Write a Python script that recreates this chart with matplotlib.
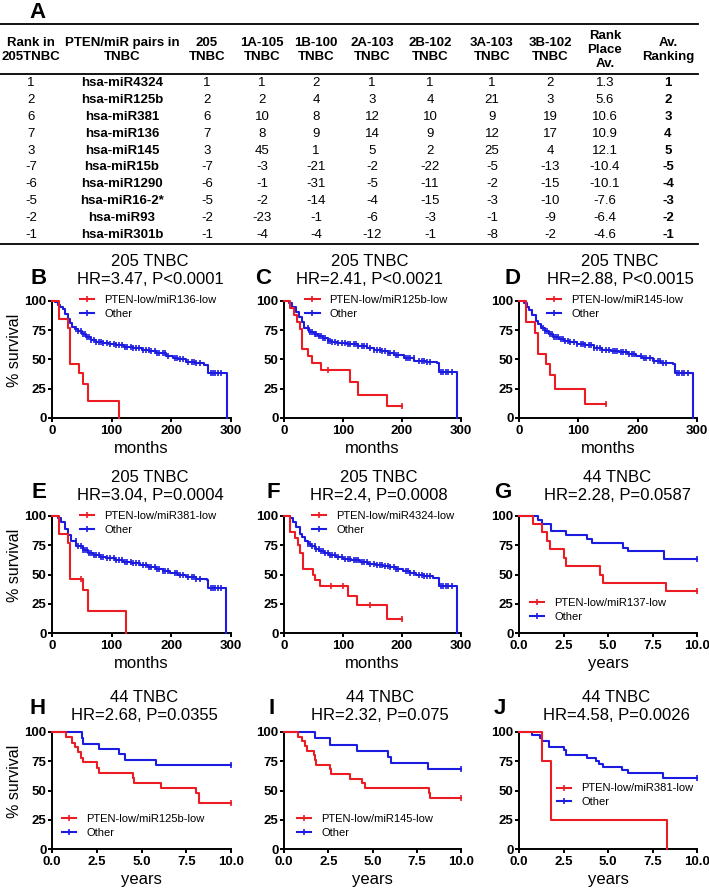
import numpy as np
import matplotlib.pyplot as plt
from matplotlib.lines import Line2D

plt.rcParams['font.family'] = ['Liberation Sans', 'DejaVu Sans']

W, H = 709, 891
RED = '#ec1c24'
BLUE = '#1c1ce0'

# ---------------- table A ----------------
headers = ['Rank in\n205TNBC', 'PTEN/miR pairs in\nTNBC', '205\nTNBC', '1A-105\nTNBC',
           '1B-100\nTNBC', '2A-103\nTNBC', '2B-102\nTNBC', '3A-103\nTNBC',
           '3B-102\nTNBC', 'Rank\nPlace\nAv.', 'Av.\nRanking']
rank_205 = [1, 2, 6, 7, 3, -7, -6, -5, -2, -1]
pairs = ['hsa-miR4324', 'hsa-miR125b', 'hsa-miR381', 'hsa-miR136', 'hsa-miR145',
         'hsa-miR15b', 'hsa-miR1290', 'hsa-miR16-2*', 'hsa-miR93', 'hsa-miR301b']
tnbc_205 = [1, 2, 6, 7, 3, -7, -6, -5, -2, -1]
c_1a = [1, 2, 10, 8, 45, -3, -1, -2, -23, -4]
c_1b = [2, 4, 8, 9, 1, -21, -31, -14, -1, -4]
c_2a = [1, 3, 12, 14, 5, -2, -5, -4, -6, -12]
c_2b = [1, 4, 10, 9, 2, -22, -11, -15, -3, -1]
c_3a = [1, 21, 9, 12, 25, -5, -2, -3, -1, -8]
c_3b = [2, 3, 19, 17, 4, -13, -15, -10, -9, -2]
rank_avg = [1.3, 5.6, 10.6, 10.9, 12.1, -10.4, -10.1, -7.6, -6.4, -4.6]
av_ranking = [1, 2, 3, 4, 5, -5, -4, -3, -2, -1]

# ---------------- survival curves (time, survival after step) ----------------
# 205 TNBC, months
b_red_t = [0, 11.7, 26.8, 30.7, 44.6, 52, 60, 112]
b_red_s = [100, 85, 77, 46, 38.5, 29, 14.3, 0]
b_red_c = []
b_blue_t = [0, 5, 10, 14, 18, 22, 26, 30, 34, 38, 44, 50, 57, 65, 74, 85, 95, 108, 120,
            135, 150, 163, 175, 191, 202, 212, 225, 240, 255, 262, 293]
b_blue_s = [100, 99, 97, 95, 93, 89, 85, 81, 78, 76, 74, 72, 69, 67, 65, 64, 63, 62, 61,
            59.5, 58, 57, 55.5, 53, 51, 50, 48, 47, 45.5, 38.5, 0]

c_red_t = [0, 10, 17, 22, 27, 30, 40, 47, 62, 112, 125, 175, 200]
c_red_s = [100, 94, 88, 82, 76, 59, 53, 47, 41, 31, 20, 10, 10]
c_red_c = [75, 200]
c_blue_t = [0, 8.5, 14, 20, 25.5, 30, 34, 42, 50, 57, 66, 74, 82, 90, 107, 125, 141, 152,
            164, 176, 187, 204, 221, 240, 260, 263, 293]
c_blue_s = [100, 98, 95, 91, 86, 82, 77, 73.4, 71.5, 70, 68, 66, 65, 64, 63, 61.5, 60, 58.5,
            57, 55.5, 54, 51.4, 49, 48, 47, 39, 0]

d_red_t = [0, 11, 27, 32.6, 45, 52, 60.7, 112, 146]
d_red_s = [100, 82, 73, 55, 46, 37, 24.5, 12.3, 12.3]
d_red_c = [146]
d_blue_t = [0, 8.4, 13, 17, 22.5, 28, 32, 36.5, 43, 50.6, 58, 67, 75, 84, 98, 112, 126, 140,
            155, 169, 183, 197, 208, 225, 240, 260, 263, 293]
d_blue_s = [100, 98, 95, 92, 88, 83, 80, 76.6, 74, 71.5, 69.5, 67.5, 66, 64.7, 63.3, 62, 60,
            58, 57, 56, 54.5, 53, 51, 48.4, 47, 46, 38.4, 0]

e_red_t = [0, 11.7, 27, 31, 52, 60, 124.6]
e_red_s = [100, 85, 77, 46, 37, 18.5, 0]
e_red_c = [49]
e_blue_t = [0, 10, 15.6, 21, 27, 32, 41, 52, 60, 69, 80, 91, 105, 119, 133, 147, 161, 175,
            186, 197, 211, 225, 242, 259, 261, 292]
e_blue_s = [100, 98, 95, 88.7, 83.6, 78.8, 74.5, 70.8, 68.5, 66.6, 65, 63.7, 62.3, 61, 59.5,
            58, 56.5, 55, 53.3, 51.6, 49.8, 48, 46.4, 45, 38.5, 0]

f_red_t = [0, 9.6, 18, 23.7, 27.6, 32, 49, 52, 61, 108, 124, 174, 200]
f_red_s = [100, 86, 81, 75, 68, 55, 50, 45, 40, 32, 24, 12, 12]
f_red_c = [80, 100, 145, 200]
f_blue_t = [0, 9.6, 15, 21, 26.5, 30, 35, 40, 46, 53, 60, 68, 77, 88, 100, 114, 128, 142, 156,
            168, 179, 190, 201, 213, 224, 238, 252, 262, 293]
f_blue_s = [100, 98, 95, 91, 85, 82, 78.7, 76, 74, 72, 70, 68, 66.5, 65, 63.6, 62, 60.8, 59.4,
            58, 57, 56, 54.5, 53, 51.2, 49.4, 48.4, 47.4, 39.8, 0]

# censored "Other" patients in the 205 cohort (months)
other_205_c = [40, 44, 48, 52, 55, 59, 62, 66, 70, 74, 78, 82, 86, 92, 98, 104, 108, 112,
               118, 122, 126, 132, 136, 140, 146, 152, 158, 162, 166, 172, 176, 180, 186,
               190, 194, 206, 210, 214, 220, 228, 234, 238, 242, 248, 266, 270, 274, 278, 284]

# 44 TNBC, years
g_red_t = [0, 0.8, 1.3, 1.6, 1.75, 2.5, 2.63, 4.55, 4.7, 8.25, 10]
g_red_s = [100, 93, 86, 79, 71.5, 64, 57, 50, 43, 36, 36]
g_blue_t = [0, 1.07, 1.3, 1.8, 2.63, 3.8, 4.1, 5.86, 6.1, 8.12, 10]
g_blue_s = [100, 96.5, 93, 87, 83.5, 80, 76.5, 73, 70, 63.5, 63.5]

h_red_t = [0, 0.81, 1.1, 1.29, 1.44, 1.63, 1.72, 2.52, 2.6, 4.5, 4.6, 6.1, 8.05, 8.2, 10]
h_red_s = [100, 96, 91, 87, 82.5, 78, 74, 69.5, 65, 61, 56.5, 52, 48, 39, 39]
h_blue_t = [0, 1.67, 1.75, 2.6, 3.75, 4.07, 5.83, 10]
h_blue_s = [100, 95, 90, 85.7, 81, 76.2, 71.4, 71.4]

i_red_t = [0, 0.79, 1.03, 1.2, 1.32, 1.67, 1.75, 1.82, 2.58, 2.63, 3.74, 4.42, 4.55, 8.18,
           8.25, 10]
i_red_s = [100, 96, 92, 88, 84, 80, 76, 72, 68, 64, 60, 56, 52, 48, 44, 44]
i_blue_t = [0, 1.73, 2.58, 4.15, 5.86, 6.05, 8.12, 10]
i_blue_s = [100, 94.5, 89, 83.5, 78.5, 73.5, 68.5, 68.5]

j_red_t = [0, 1.28, 1.78, 8.29]
j_red_s = [100, 75, 25, 0]
j_blue_t = [0, 0.75, 1.18, 1.28, 1.69, 2.53, 2.63, 3.8, 4.3, 4.5, 4.7, 5.8, 6.1, 8.1, 10]
j_blue_s = [100, 97.5, 95, 92.5, 87.5, 85, 80, 77.5, 75, 72.5, 70, 67.5, 65, 60.5, 60.5]

fig = plt.figure(figsize=(W / 100, H / 100), dpi=100)

# pixel-space overlay for table, letters and titles
ov = fig.add_axes([0, 0, 1, 1], zorder=0)
ov.set_xlim(0, W)
ov.set_ylim(H, 0)
ov.axis('off')

col_x = [31, 122, 207, 262, 316, 372, 430, 492, 550, 605, 668]
for x, h in zip(col_x, headers):
    ov.text(x, 50, h, ha='center', va='center', fontsize=9.5, fontweight='bold',
            linespacing=1.25)
for y in [24, 74, 244]:
    ov.plot([0, 698], [y, y], color='black', lw=1.3)

table_cols = [rank_205, pairs, tnbc_205, c_1a, c_1b, c_2a, c_2b, c_3a, c_3b, rank_avg,
              av_ranking]
for ci, (x, col) in enumerate(zip(col_x, table_cols)):
    for ri, v in enumerate(col):
        bold = ci in (1, 10)
        ov.text(x, 83 + ri * 16.9, str(v), ha='center', va='center', fontsize=9.5,
                fontweight='bold' if bold else 'normal')
ov.text(37, 12, 'A', ha='center', va='center', fontsize=16, fontweight='bold')

panels = [
    # letter, cohort, stats, label, red, blue, red censor, blue censor, unit, rect, legend pos
    ('B', '205 TNBC', 'HR=3.47, P<0.0001', 'miR136', (b_red_t, b_red_s), (b_blue_t, b_blue_s),
     b_red_c, other_205_c, 'months', (52, 231, 301, 418), (0.156, 1.05), (39, 278), (150, 262)),
    ('C', '205 TNBC', 'HR=2.41, P<0.0021', 'miR125b', (c_red_t, c_red_s), (c_blue_t, c_blue_s),
     c_red_c, other_205_c, 'months', (284, 461, 301, 418), (0.119, 1.05), (263, 278), (370, 262)),
    ('D', '205 TNBC', 'HR=2.88, P<0.0015', 'miR145', (d_red_t, d_red_s), (d_blue_t, d_blue_s),
     d_red_c, other_205_c, 'months', (519, 697, 301, 418), (0.157, 1.05), (513, 278), (620, 262)),
    ('E', '205 TNBC', 'HR=3.04, P=0.0004', 'miR381', (e_red_t, e_red_s), (e_blue_t, e_blue_s),
     e_red_c, other_205_c, 'months', (52, 231, 516, 633), (0.156, 1.04), (39, 493), (150, 478)),
    ('F', '205 TNBC', 'HR=2.4, P=0.0008', 'miR4324', (f_red_t, f_red_s), (f_blue_t, f_blue_s),
     f_red_c, other_205_c, 'months', (284, 461, 516, 633), (0.158, 1.04), (273, 493), (379, 478)),
    ('G', '44 TNBC', 'HR=2.28, P=0.0587', 'miR137', (g_red_t, g_red_s), (g_blue_t, g_blue_s),
     [10], [10], 'years', (519, 697, 516, 633), (0.062, 0.30), (503, 493), (617, 478)),
    ('H', '44 TNBC', 'HR=2.68, P=0.0355', 'miR125b', (h_red_t, h_red_s), (h_blue_t, h_blue_s),
     [10], [10], 'years', (52, 231, 732, 849), (0.056, 0.30), (38, 708), (144, 697)),
    ('I', '44 TNBC', 'HR=2.32, P=0.075', 'miR145', (i_red_t, i_red_s), (i_blue_t, i_blue_s),
     [10], [10], 'years', (284, 461, 732, 849), (0.073, 0.30), (272, 708), (380, 697)),
    ('J', '44 TNBC', 'HR=4.58, P=0.0026', 'miR381', (j_red_t, j_red_s), (j_blue_t, j_blue_s),
     [], [10], 'years', (519, 697, 732, 849), (0.213, 0.56), (500, 708), (616, 697)),
]


def km(ax, t, s, cens, color):
    ax.step(t, s, where='post', color=color, lw=1.5, clip_on=False, zorder=3)
    if cens:
        idx = np.searchsorted(t, cens, side='right') - 1
        ax.plot(cens, np.array(s)[idx], ls='none', marker='|', ms=4, mew=1.2,
                color=color, clip_on=False, zorder=3)


for (letter, cohort, stats, mir, red, blue, red_c, blue_c, unit, rect, leg, lpos,
     tpos) in panels:
    x0, x1, yt, yb = rect
    ax = fig.add_axes([x0 / W, 1 - yb / H, (x1 - x0) / W, (yb - yt) / H])
    km(ax, blue[0], blue[1], blue_c, BLUE)
    km(ax, red[0], red[1], red_c, RED)
    for sp in ['top', 'right']:
        ax.spines[sp].set_visible(False)
    for sp in ['left', 'bottom']:
        ax.spines[sp].set_linewidth(1.4)
    ax.set_ylim(0, 100)
    ax.set_yticks([0, 25, 50, 75, 100])
    ax.set_yticklabels(['0', '25', '50', '75', '100'], fontweight='bold')
    if unit == 'months':
        ax.set_xlim(0, 300)
        ax.set_xticks([0, 100, 200, 300])
        ax.set_xticklabels(['0', '100', '200', '300'], fontweight='bold')
    else:
        ax.set_xlim(0, 10)
        ax.set_xticks([0, 2.5, 5, 7.5, 10])
        ax.set_xticklabels(['0.0', '2.5', '5.0', '7.5', '10.0'], fontweight='bold')
    ax.tick_params(direction='out', length=3, width=1.4, labelsize=9.5, pad=1)
    ax.tick_params(axis='x', pad=2)
    ax.set_xlabel(unit, fontsize=12)
    ax.xaxis.set_label_coords(0.5, -0.2)
    if x0 < 100:
        ax.set_ylabel('% survival', fontsize=11.5)
        ax.yaxis.set_label_coords(-0.17, 0.58)
    handles = [Line2D([], [], color=RED, lw=1.5, marker='|', ms=4, mew=1.2),
               Line2D([], [], color=BLUE, lw=1.5, marker='|', ms=4, mew=1.2)]
    ax.legend(handles, ['PTEN-low/%s-low' % mir, 'Other'], loc='upper left',
              bbox_to_anchor=leg, frameon=False, fontsize=8, handlelength=1.3,
              handletextpad=0.9, labelspacing=0.35, borderpad=0, borderaxespad=0,
              numpoints=1)
    ov.text(lpos[0], lpos[1], letter, ha='center', va='center', fontsize=16,
            fontweight='bold')
    ov.text(tpos[0], tpos[1], cohort, ha='center', va='center', fontsize=12)
    ov.text(tpos[0], tpos[1] + 18, stats, ha='center', va='center', fontsize=12)

fig.savefig('out.png', dpi=100)
